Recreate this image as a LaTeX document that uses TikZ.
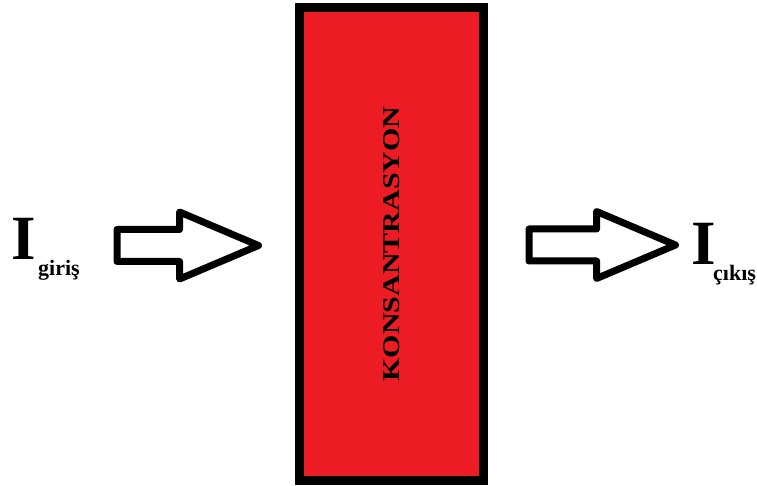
\documentclass[tikz,border=0pt]{standalone}
\usepackage{fontspec}
\setmainfont{Liberation Serif}
\usetikzlibrary{positioning,shapes.arrows}
\definecolor{boxred}{RGB}{237,28,36}

\begin{document}
\begin{tikzpicture}[
  x=1pt,y=1pt,
  font=\bfseries,
  blk/.style={draw=black,line width=9pt,fill=boxred,minimum width=473pt,minimum height=184pt,rotate=90,inner sep=0pt,font=\fontsize{24}{24}\selectfont\bfseries},
  flow/.style={single arrow,draw=black,line width=7pt,line join=round,fill=white,inner sep=12.5pt,single arrow head extend=17.5pt,single arrow tip angle=46,single arrow head indent=0pt,anchor=tail},
  cur/.style={inner sep=0pt,anchor=base west,font=\fontsize{63}{63}\selectfont\bfseries},
  sub/.style={inner sep=0pt,anchor=base west,font=\fontsize{22}{22}\selectfont\bfseries},
]
\useasboundingbox (0,0) rectangle (757,486);
% tank
\node[blk] (kons) at (391.5,242) {\scalebox{1.25}[1]{KONSANTRASYON}};
% in / out flow
\node[flow,minimum height=141.5pt] (ain) at (113.5,240.5) {};
\node[flow,minimum height=146.5pt] (aout) at (525.5,241) {};
\node[cur] (iin) at (11,226) {I};
\node[sub] (giris) at (38,210) {giriş};
\node[cur] (iout) at (691,221) {I};
\node[sub] (cikis) at (713,205) {çıkış};
\end{tikzpicture}
\end{document}
